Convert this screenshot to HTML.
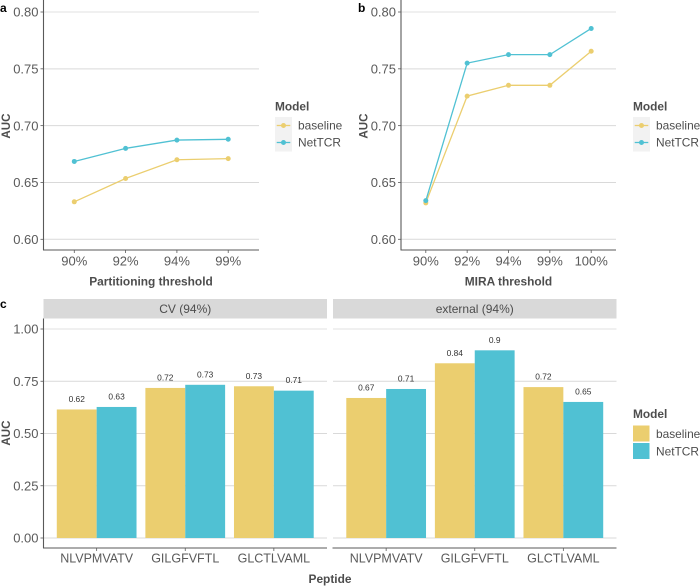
<!DOCTYPE html>
<html>
<head>
<meta charset="utf-8">
<style>
html,body{margin:0;padding:0;background:#fff;width:700px;height:586px;overflow:hidden}
svg{display:block;font-family:"Liberation Sans",sans-serif;filter:blur(0.3px)}
</style>
</head>
<body>
<svg id="fig" xmlns="http://www.w3.org/2000/svg" width="700" height="586" viewBox="0 0 700 586"></svg>
<script>
// Chart data
const linePanelACategories = ['90%', '92%', '94%', '99%'];
const linePanelABaseline = [0.633, 0.6535, 0.670, 0.671];
const linePanelANetTCR = [0.6685, 0.680, 0.6873, 0.688];

const linePanelBCategories = ['90%', '92%', '94%', '99%', '100%'];
const linePanelBBaseline = [0.632, 0.726, 0.7355, 0.7355, 0.7655];
const linePanelBNetTCR = [0.634, 0.755, 0.7625, 0.7625, 0.7855];

const lineTicks = ['0.60', '0.65', '0.70', '0.75', '0.80'];

const barCategories = ['NLVPMVATV', 'GILGFVFTL', 'GLCTLVAML'];
const barCvBaseline = [0.615, 0.718, 0.726];
const barCvNetTCR = [0.627, 0.733, 0.705];
const barExternalBaseline = [0.670, 0.836, 0.722];
const barExternalNetTCR = [0.713, 0.898, 0.651];
const barCvBaselineLabels = ['0.62', '0.72', '0.73'];
const barCvNetTCRLabels = ['0.63', '0.73', '0.71'];
const barExternalBaselineLabels = ['0.67', '0.84', '0.72'];
const barExternalNetTCRLabels = ['0.71', '0.9', '0.65'];
const barTicks = ['0.00', '0.25', '0.50', '0.75', '1.00'];

const YELLOW = '#ebce6f';
const TEAL = '#50c1d3';
const TICK_TEXT = '#5a5a5a';
const TITLE_TEXT = '#4d4d4d';
const GRID = '#d9d9d9';
const AXIS = '#595959';

const svg = document.getElementById('fig');
const NS = 'http://www.w3.org/2000/svg';

function mk(tag, name, attrs) {
  const el = document.createElementNS(NS, tag);
  
  
  for (const k in attrs) el.setAttribute(k, attrs[k]);
  svg.appendChild(el);
  return el;
}
function line(name, x1, y1, x2, y2, stroke, w) {
  return mk('line', name, { x1, y1, x2, y2, stroke, 'stroke-width': w });
}
function text(name, str, x, y, size, fill, anchor, weight, rot) {
  const a = { x, y, 'font-size': size, fill, 'text-anchor': anchor || 'start' };
  if (weight) a['font-weight'] = weight;
  if (rot) a.transform = 'rotate(' + rot + ' ' + x + ' ' + y + ')';
  const el = mk('text', name, a);
  el.textContent = str;
  return el;
}
function bandScale(left, right, n) {
  const step = (right - left) / (n - 1 + 1.2);
  const fn = i => left + (i + 0.6) * step;
  fn.step = step;
  return fn;
}
function linearScale(d0, d1, r0, r1) {
  return v => r0 + (v - d0) * (r1 - r0) / (d1 - d0);
}

function drawLinePanel(id, left, right, bottom, cats, base, net, xTitle, xTitleX, yTitleX) {
  const y = linearScale(0.6, 0.8, 239.3, 12);
  const x = bandScale(left, right, cats.length);
  lineTicks.forEach(t => {
    const v = parseFloat(t);
    const isTop = t === '0.80';
    line(id + '-gridline-' + t, left, y(v), right, y(v), isTop ? '#ececec' : GRID, isTop ? 1.4 : 1);
    line(id + '-y-tick-' + t, left - 3, y(v), left, y(v), AXIS, 0.8);
    text(id + '-y-label-' + t, t, left - 5, y(v) + 4.7, 13, TICK_TEXT, 'end');
  });
  [[base, YELLOW, 'baseline'], [net, TEAL, 'nettcr']].forEach(s => {
    mk('polyline', id + '-line-' + s[2], {
      points: s[0].map((v, i) => x(i) + ',' + y(v)).join(' '),
      fill: 'none', stroke: s[1], 'stroke-width': 1.3
    });
    s[0].forEach((v, i) => {
      mk('circle', id + '-point-' + s[2] + '-' + cats[i], { cx: x(i), cy: y(v), r: 2.5, fill: s[1] });
    });
  });
  line(id + '-y-axis', left, 0, left, bottom, AXIS, 1.1);
  line(id + '-x-axis', left - 0.5, bottom, right, bottom, AXIS, 1.1);
  cats.forEach((c, i) => {
    line(id + '-x-tick-' + c, x(i), bottom, x(i), bottom + 3, AXIS, 0.8);
    text(id + '-x-label-' + c, c, x(i), bottom + 15.5, 13, TICK_TEXT, 'middle');
  });
  text(id + '-x-axis-title', xTitle, xTitleX, 285.5, 11.9, TITLE_TEXT, 'middle', 'bold');
  text(id + '-y-axis-title', 'AUC', yTitleX, 126, 11.6, TITLE_TEXT, 'middle', 'bold', -90);
}

function drawLineLegend(id, lx) {
  text(id + '-legend-title', 'Model', lx, 110.5, 11.9, TITLE_TEXT, 'start', 'bold');
  mk('rect', id + '-legend-key-background', { x: lx, y: 117, width: 17, height: 34.5, fill: '#f2f2f2' });
  [[125.5, YELLOW, 'baseline'], [142.5, TEAL, 'NetTCR']].forEach(r => {
    line(id + '-legend-line-' + r[2], lx + 1.7, r[0], lx + 15.3, r[0], r[1], 1.3);
    mk('circle', id + '-legend-point-' + r[2], { cx: lx + 8.5, cy: r[0], r: 2.5, fill: r[1] });
    text(id + '-legend-label-' + r[2], r[2], lx + 23, r[0] + 4.2, 11.9, TITLE_TEXT);
  });
}

function drawBarFacet(id, left, right, strip, base, net, baseLabels, netLabels) {
  const bottom = 548;
  const y = linearScale(0, 1, 538, 329);
  const x = bandScale(left, right, barCategories.length);
  const bw = x.step * 0.9 / 2;
  mk('rect', id + '-strip', { x: left, y: 299, width: right - left, height: 19.5, fill: '#d9d9d9' });
  text(id + '-strip-label', strip, (left + right) / 2, 313, 12, TITLE_TEXT, 'middle');
  barTicks.forEach(t => {
    const v = parseFloat(t);
    const isTop = t === '1.00';
    line(id + '-gridline-' + t, left, y(v), right, y(v), isTop ? '#ececec' : GRID, isTop ? 1.4 : 1);
  });
  barCategories.forEach((c, i) => {
    mk('rect', id + '-bar-baseline-' + c, { x: x(i) - bw, y: y(base[i]), width: bw, height: y(0) - y(base[i]), fill: YELLOW });
    mk('rect', id + '-bar-nettcr-' + c, { x: x(i), y: y(net[i]), width: bw, height: y(0) - y(net[i]), fill: TEAL });
    text(id + '-value-baseline-' + c, baseLabels[i], x(i) - bw / 2, y(base[i]) - 7.5, 8.4, '#333', 'middle');
    text(id + '-value-nettcr-' + c, netLabels[i], x(i) + bw / 2, y(net[i]) - 7.5, 8.4, '#333', 'middle');
    line(id + '-x-tick-' + c, x(i), bottom, x(i), bottom + 3, AXIS, 0.8);
    text(id + '-x-label-' + c, c, x(i), bottom + 14.5, 12.5, TICK_TEXT, 'middle');
  });
  line(id + '-x-axis', left - 0.5, bottom, right, bottom, AXIS, 1.1);
}

// Panel a
drawLinePanel('panel-a', 43.5, 259, 250, linePanelACategories, linePanelABaseline, linePanelANetTCR, 'Partitioning threshold', 151, 10);
drawLineLegend('panel-a', 275);
text('panel-a-tag', 'a', 0, 12, 12, '#000', 'start', 'bold');

// Panel b
drawLinePanel('panel-b', 401, 616, 250, linePanelBCategories, linePanelBBaseline, linePanelBNetTCR, 'MIRA threshold', 508.5, 367.5);
drawLineLegend('panel-b', 633);
text('panel-b-tag', 'b', 358, 12, 12, '#000', 'start', 'bold');

// Panel c
const yc = linearScale(0, 1, 538, 329);
drawBarFacet('panel-c-cv', 43.5, 327, 'CV (94%)', barCvBaseline, barCvNetTCR, barCvBaselineLabels, barCvNetTCRLabels);
drawBarFacet('panel-c-external', 333, 616.5, 'external (94%)', barExternalBaseline, barExternalNetTCR, barExternalBaselineLabels, barExternalNetTCRLabels);
barTicks.forEach(t => {
  const v = parseFloat(t);
  line('panel-c-y-tick-' + t, 40.5, yc(v), 43.5, yc(v), AXIS, 0.8);
  text('panel-c-y-label-' + t, t, 38.5, yc(v) + 4.7, 13, TICK_TEXT, 'end');
});
line('panel-c-y-axis', 43.5, 318.5, 43.5, 548, AXIS, 1.1);
text('panel-c-x-axis-title', 'Peptide', 330, 583, 11.9, TITLE_TEXT, 'middle', 'bold');
text('panel-c-y-axis-title', 'AUC', 10, 433, 11.6, TITLE_TEXT, 'middle', 'bold', -90);
text('panel-c-tag', 'c', 0, 308, 12, '#000', 'start', 'bold');
text('panel-c-legend-title', 'Model', 633, 418, 11.9, TITLE_TEXT, 'start', 'bold');
mk('rect', 'panel-c-legend-swatch-baseline', { x: 633, y: 425.5, width: 16.5, height: 16, fill: YELLOW });
mk('rect', 'panel-c-legend-swatch-nettcr', { x: 633, y: 443, width: 16.5, height: 16, fill: TEAL });
text('panel-c-legend-label-baseline', 'baseline', 656, 438, 11.9, TITLE_TEXT);
text('panel-c-legend-label-nettcr', 'NetTCR', 656, 455.5, 11.9, TITLE_TEXT);
</script>
</body>
</html>
